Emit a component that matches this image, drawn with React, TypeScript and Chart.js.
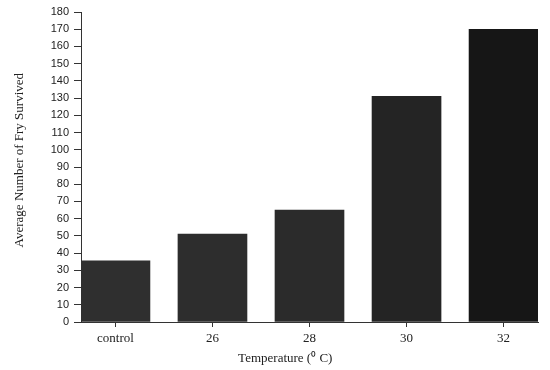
import React, { useEffect, useRef } from "react";
import { Chart, registerables } from "chart.js";

Chart.register(...registerables);

const categories = ["control", "26", "28", "30", "32"];
const survived = [35.5, 51, 65, 131, 170];
const barColors = ["#2f2f2f", "#2d2d2d", "#2b2b2b", "#242424", "#161616"];
const yTickMax = 180;
const yTickStep = 10;
const xTitle = "Temperature (\u2070 C)";
const yTitle = "Average Number of Fry Survived";

const axisTitles = {
  id: "axisTitles",
  afterDraw(chart: any) {
    const { ctx, chartArea } = chart;
    const w = chartArea.right - chartArea.left;
    const h = chartArea.bottom - chartArea.top;
    ctx.save();
    ctx.font = "13px 'Liberation Serif'";
    ctx.fillStyle = "#222";
    ctx.textAlign = "center";
    ctx.textBaseline = "middle";
    ctx.fillText(xTitle, chartArea.left + w * 0.447, chartArea.bottom + 37);
    ctx.translate(chartArea.left - 61, chartArea.top + h * 0.478);
    ctx.rotate(-Math.PI / 2);
    ctx.fillText(yTitle, 0, 0);
    ctx.restore();
  },
};

export default function App() {
  const ref = useRef<HTMLCanvasElement | null>(null);

  useEffect(() => {
    document.body.style.margin = "0";
    const ctx = ref.current!.getContext("2d")!;
    const chart = new Chart(ctx, {
      type: "bar",
      data: {
        datasets: [
          {
            data: survived.map((v, i) => ({ x: i, y: v })),
            backgroundColor: barColors,
            borderWidth: 0,
            barThickness: 69,
          },
        ],
      },
      plugins: [axisTitles],
      options: {
        animation: false,
        responsive: false,
        layout: { padding: { left: 0, top: 12, right: 12, bottom: 0 } },
        plugins: { legend: { display: false }, tooltip: { enabled: false } },
        scales: {
          x: {
            type: "linear",
            min: -0.355,
            max: 4.355,
            offset: false,
            afterBuildTicks: (s: any) => {
              s.ticks = categories.map((_, i) => ({ value: i }));
            },
            afterFit: (s: any) => {
              s.height = 48;
            },
            ticks: {
              callback: (v: any) => categories[v as number] ?? "",
              font: { family: "Liberation Serif", size: 13 },
              color: "#222",
              padding: 4,
              maxRotation: 0,
            },
            grid: {
              display: true,
              drawOnChartArea: false,
              offset: false,
              tickLength: 5,
              color: "#333",
            },
            border: { display: true, color: "#333", width: 1 },
          },
          y: {
            min: 0,
            max: yTickMax,
            afterFit: (s: any) => {
              s.width = 81;
            },
            ticks: {
              stepSize: yTickStep,
              font: { family: "Liberation Sans", size: 11 },
              color: "#222",
              padding: 5,
            },
            grid: {
              display: true,
              drawOnChartArea: false,
              tickLength: 7,
              color: "#333",
            },
            border: { display: true, color: "#333", width: 1 },
          },
        },
      },
    });
    return () => chart.destroy();
  }, []);

  return (
    <div style={{ position: "absolute", left: 0, top: 0, width: 550, height: 370, background: "#fff" }}>
      <canvas ref={ref} width={550} height={370} />
    </div>
  );
}
